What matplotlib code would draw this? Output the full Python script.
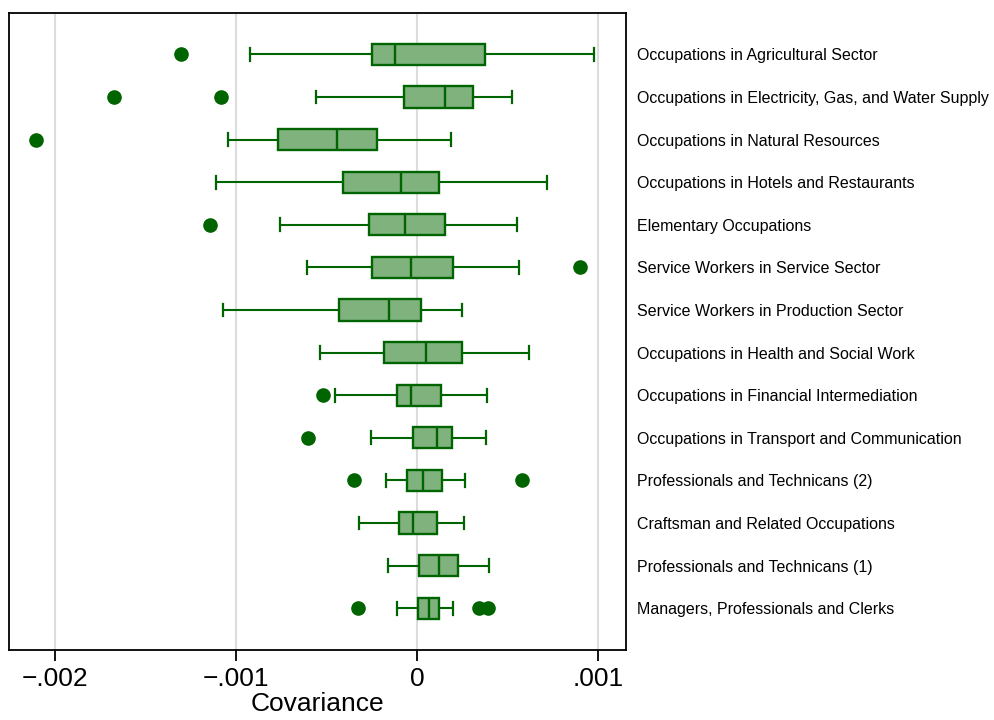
import numpy as np
import matplotlib
matplotlib.use("Agg")
from matplotlib import pyplot as plt

plt.rcParams['font.family'] = ['Liberation Sans', 'DejaVu Sans']

# occupation groups, top to bottom
groups = [
    "Occupations in Agricultural Sector",
    "Occupations in Electricity, Gas, and Water Supply",
    "Occupations in Natural Resources",
    "Occupations in Hotels and Restaurants",
    "Elementary Occupations",
    "Service Workers in Service Sector",
    "Service Workers in Production Sector",
    "Occupations in Health and Social Work",
    "Occupations in Financial Intermediation",
    "Occupations in Transport and Communication",
    "Professionals and Technicans (2)",
    "Craftsman and Related Occupations",
    "Professionals and Technicans (1)",
    "Managers, Professionals and Clerks",
]

# box statistics, in units of 1e-3
whislo = [-0.920, -0.558, -1.044, -1.110, -0.758, -0.607, -1.071,
          -0.533, -0.451, -0.252, -0.169, -0.320, -0.160, -0.110]
q1 = [-0.248, -0.070, -0.768, -0.410, -0.267, -0.248, -0.432,
      -0.184, -0.110, -0.022, -0.053, -0.097, 0.013, 0.006]
med = [-0.123, 0.153, -0.440, -0.086, -0.064, -0.031, -0.156,
       0.052, -0.031, 0.113, 0.031, -0.020, 0.120, 0.066]
q3 = [0.378, 0.309, -0.221, 0.124, 0.153, 0.199, 0.024,
      0.251, 0.135, 0.195, 0.140, 0.109, 0.226, 0.120]
whishi = [0.977, 0.527, 0.188, 0.716, 0.552, 0.565, 0.248,
          0.618, 0.385, 0.379, 0.267, 0.260, 0.400, 0.199]
outliers = [
    [-1.303],
    [-1.675, -1.080],
    [-2.107],
    [],
    [-1.141],
    [0.902],
    [],
    [],
    [-0.521],
    [-0.602],
    [-0.350, 0.582],
    [],
    [],
    [-0.326, 0.341, 0.392],
]

xticks = [-0.002, -0.001, 0, 0.001]
xticklabels = ["\u2212.002", "\u2212.001", "0", ".001"]

dark = "#006400"
fill = "#80b27e"

stats = []
for i in range(len(groups)):
    stats.append(dict(
        whislo=whislo[i] * 1e-3, q1=q1[i] * 1e-3, med=med[i] * 1e-3,
        q3=q3[i] * 1e-3, whishi=whishi[i] * 1e-3,
        fliers=np.array(outliers[i]) * 1e-3,
    ))

fig = plt.figure(figsize=(9.95, 7.2), dpi=100)
ax = fig.add_axes([9 / 995, 1 - 650 / 720, (626 - 9) / 995, (650 - 13) / 720])

ax.bxp(stats, positions=np.arange(len(groups)), orientation='horizontal',
       widths=0.5, capwidths=0.3, patch_artist=True,
       boxprops=dict(facecolor=fill, edgecolor=dark, linewidth=1.7),
       medianprops=dict(color=dark, linewidth=1.7),
       whiskerprops=dict(color=dark, linewidth=1.5),
       capprops=dict(color=dark, linewidth=1.6),
       flierprops=dict(marker='o', markerfacecolor=dark, markeredgecolor=dark,
                       markersize=9.5, linestyle='none'),
       zorder=3)

ax.set_xlim(-0.002254, 0.001155)
ax.set_ylim(len(groups) - 1 + 0.98, -0.97)

ax.set_xticks(xticks)
ax.set_xticklabels(xticklabels, fontsize=19)
ax.tick_params(axis='x', length=8, width=1.3, pad=4)
ax.grid(True, axis='x', color='#dcdcdc', linewidth=1.5, zorder=0)

ax.yaxis.tick_right()
ax.set_yticks(np.arange(len(groups)))
ax.set_yticklabels(groups, fontsize=11.5)
ax.tick_params(axis='y', length=0, pad=8)

for s in ax.spines.values():
    s.set_linewidth(1.3)

ax.set_xlabel("Covariance", fontsize=19, labelpad=1)

fig.savefig("out.png", dpi=100)
